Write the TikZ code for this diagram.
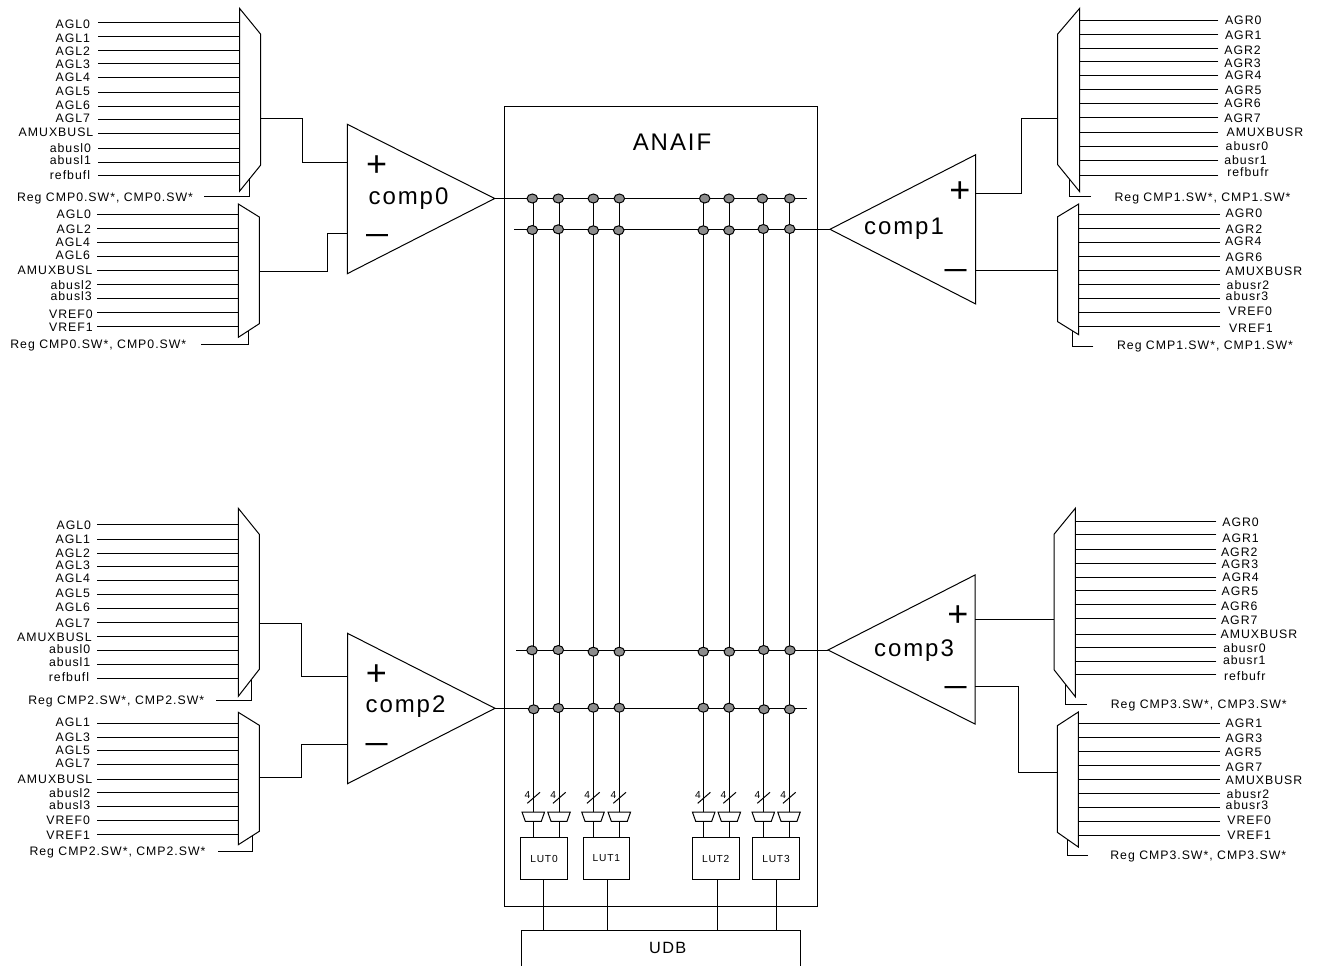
\documentclass[tikz,border=0pt]{standalone}
\usepackage{fontspec}
\setmainfont[LetterSpace=8]{Liberation Sans}
\newfontfamily\plainf{Liberation Sans}
\newfontfamily\boldf{Liberation Sans Bold}
\usetikzlibrary{shapes.geometric}
\definecolor{dotgray}{HTML}{8C8C8C}
\tikzset{
  wire/.style={draw=black,line width=1pt},
  shapeline/.style={draw=black,line width=1pt,fill=white,line join=miter},
  lab/.style={inner sep=0pt,outer sep=0pt,text height=8.6pt,text depth=0pt,font=\fontsize{12.3}{14}\selectfont},
  reglab/.style={lab,anchor=center},
  complab/.style={inner sep=0pt,text height=16.5pt,text depth=0pt,font=\fontsize{24}{26}\selectfont},
  plussign/.style={inner sep=0pt,yshift=-1pt,font=\plainf\fontsize{36}{38}\selectfont},
  minussign/.style={inner sep=0pt,yshift=-4pt,font=\boldf\fontsize{22}{24}\selectfont},
  lutbox/.style={draw=black,line width=1pt,minimum width=46.6pt,minimum height=41.6pt,inner sep=0pt,font=\fontsize{10.2}{12}\selectfont},
  jn/.style={ellipse,draw=black,line width=1pt,fill=dotgray,minimum width=10.5pt,minimum height=9pt,inner sep=0pt},
  fourlab/.style={inner sep=0pt,font=\fontsize{10.2}{12}\selectfont}
}
% left inputs: name, xstart, xend, {yline/xlabelend/ylabel/text}
\newcommand\inleft[4]{\foreach \yl/\xl/\yt/\lbl [count=\i] in {#4}{
  \node[lab,anchor=east] (#1l\i) at (\xl,\yt) {\lbl};
  \coordinate (#1s\i) at (#2,\yl);
  \coordinate (#1e\i) at (#3,\yl);
  \draw[wire] (#1s\i) -- (#1e\i);}}
% right inputs: name, xmux, xend, {yline/xlabelstart/ylabel/text}
\newcommand\inright[4]{\foreach \yl/\xl/\yt/\lbl [count=\i] in {#4}{
  \node[lab,anchor=west] (#1l\i) at (\xl,\yt) {\lbl};
  \coordinate (#1s\i) at (#3,\yl);
  \coordinate (#1e\i) at (#2,\yl);
  \draw[wire] (#1s\i) -- (#1e\i);}}
% mux polygon: name, xlong, xshort, ytop, yshouldertop, yshoulderbot, ybot
\newcommand\muxshape[7]{\draw[shapeline] (#2,#4) coordinate (#1a) -- (#3,#5) coordinate (#1b) -- (#3,#6) coordinate (#1c) -- (#2,#7) coordinate (#1d) -- cycle;}
\begin{document}
\begin{tikzpicture}[x=1pt,y=-1pt]
\useasboundingbox (0,0) rectangle (1320,966);

% ---------- ANAIF block
\node[draw=black,line width=1pt,minimum width=313pt,minimum height=800pt,inner sep=0pt] (anaif) at (661.2,506.7) {};
\node[complab] (anaiflab) at (672,142) {ANAIF};

% ---------- comparators
\draw[shapeline] (347.3,124.3) coordinate (c0t) -- (494.7,198.5) coordinate (c0o) -- (347.3,273.7) coordinate (c0b) -- cycle;
\draw[shapeline] (975.7,154.7) coordinate (c1t) -- (830,229.3) coordinate (c1o) -- (975.7,304) coordinate (c1b) -- cycle;
\draw[shapeline] (347.5,633.3) coordinate (c2t) -- (495,708.3) coordinate (c2o) -- (347.5,783.7) coordinate (c2b) -- cycle;
\draw[shapeline] (975,575) coordinate (c3t) -- (828,650) coordinate (c3o) -- (975,724) coordinate (c3b) -- cycle;
\node[complab] (c0lab) at (408.5,196) {comp0};
\node[complab] (c1lab) at (904,226) {comp1};
\node[complab] (c2lab) at (405.5,704) {comp2};
\node[complab] (c3lab) at (914,648) {comp3};
\node[plussign] (c0plus) at (376.7,165) {+};
\node[plussign] (c1plus) at (960,191) {+};
\node[plussign] (c2plus) at (376.5,674) {+};
\node[plussign] (c3plus) at (958,615) {+};
\node[minussign] (c0minus) at (377,234.5) {—};
\node[minussign] (c1minus) at (955.7,269) {—};
\node[minussign] (c2minus) at (376.5,743) {—};
\node[minussign] (c3minus) at (955.5,686) {—};

% ---------- muxes
\muxshape{m0}{239.5}{260.5}{8.3}{34}{165.3}{191.3}
\muxshape{m1}{238.3}{259.3}{204}{217}{323.7}{337.3}
\muxshape{m2}{1079.7}{1057.7}{8.3}{34}{164.7}{191.7}
\muxshape{m3}{1078.7}{1057.7}{204}{216.7}{321.7}{334.7}
\muxshape{m4}{238.3}{259.3}{508.3}{534.3}{669.3}{696.3}
\muxshape{m5}{238.3}{259.3}{712.3}{725.3}{831.3}{844.7}
\muxshape{m6}{1075.3}{1054}{508.3}{534.3}{669.7}{696.7}
\muxshape{m7}{1078.3}{1057.3}{712}{725.7}{832.3}{847}

% ---------- inputs
\inleft{a}{98}{239.5}{22.7/90/24/AGL0,36.3/90/38/AGL1,50.3/90/51.7/AGL2,64/90/64/AGL3,78/90/77/AGL4,92/90/91.3/AGL5,106/90/105/AGL6,119.5/90/117.7/AGL7,133.5/93.3/132.3/AMUXBUSL,148/91/148/abusl0,162/91/160/abusl1,175.5/90/174.7/refbufl}
\inleft{b}{97}{238.3}{214.3/91/214.3/AGL0,228.3/91/229/AGL2,242.3/90/242.3/AGL4,256.3/90/255/AGL6,270.3/92.3/270/AMUXBUSL,284.3/91.7/285/abusl2,298.3/91.7/296.3/abusl3,312.3/92.7/313.7/VREF0,326.3/92.7/326.7/VREF1}
\inright{c}{1079.7}{1218.3}{20.3/1225/20.7/AGR0,34.3/1225/35.7/AGR1,48.3/1224.3/50/AGR2,62/1224.3/62.7/AGR3,76/1225/75.3/AGR4,89.3/1225/90/AGR5,103.3/1224.3/103/AGR6,117.3/1224.3/117.7/AGR7,132/1226.7/132/AMUXBUSR,146/1225.7/146/abusr0,160.3/1224.3/160.3/abusr1,175.7/1227.3/172.3/refbufr}
\inright{d}{1078.7}{1220}{214.3/1225.7/213.3/AGR0,228.3/1225.7/228.7/AGR2,242.3/1225/241/AGR4,256.3/1225.7/256.7/AGR6,270.3/1225.7/270.7/AMUXBUSR,284.3/1226.7/285.3/abusr2,298.3/1225.7/295.7/abusr3,312.3/1228.3/310.7/VREF0,326.3/1229/327.7/VREF1}
\inleft{e}{97}{238.3}{524.7/91/525/AGL0,539/90/539.3/AGL1,553/90/552.7/AGL2,566.7/90/565.3/AGL3,580.3/90/578.3/AGL4,594.3/90/592.7/AGL5,608.3/90/606.7/AGL6,622.3/90/622.7/AGL7,636.3/91.7/636.7/AMUXBUSL,650.3/90.3/649/abusl0,664.3/90.3/662.3/abusl1,678.3/89/677.3/refbufl}
\inleft{f}{97}{238.3}{723.7/90/722.3/AGL1,737/90/737/AGL3,750.3/90/750.3/AGL5,764.3/90/763.3/AGL7,779/92.3/779/AMUXBUSL,792.7/90.3/792.7/abusl2,806.7/90.3/805.3/abusl3,820.7/90/820.3/VREF0,834.7/90/835/VREF1}
\inright{g}{1075.3}{1216.3}{521.7/1222.3/522.3/AGR0,534.7/1222.3/537.7/AGR1,549/1221/551.7/AGR2,563/1221.7/564/AGR3,577/1222.3/577/AGR4,590.7/1221.7/591.3/AGR5,604.7/1221/605.7/AGR6,618.7/1221/620/AGR7,634/1220.7/634/AMUXBUSR,647.3/1223.3/648.3/abusr0,661.7/1223/660.3/abusr1,674.3/1224/676/refbufr}
\inright{h}{1078.3}{1220}{723.7/1225.7/722.7/AGR1,737.7/1225.7/737.7/AGR3,751.3/1225/751.7/AGR5,765.3/1225.7/766.7/AGR7,779.3/1225.7/780/AMUXBUSR,793.3/1226.7/794/abusr2,807.3/1225.7/805.3/abusr3,821.3/1227.3/820.3/VREF0,835/1227.3/835/VREF1}

% ---------- select lines
\node[reglab] (r0) at (105,196.7) {Reg CMP0.SW*, CMP0.SW*};
\coordinate (r0s) at (204,196.6); \coordinate (r0e) at (249.7,178.4);
\draw[wire] (r0s) -| (r0e);
\node[reglab] (r1) at (98.3,344) {Reg CMP0.SW*, CMP0.SW*};
\coordinate (r1s) at (201.3,344.3); \coordinate (r1e) at (248.7,330.5);
\draw[wire] (r1s) -| (r1e);
\node[reglab] (r2) at (1202.5,196.7) {Reg CMP1.SW*, CMP1.SW*};
\coordinate (r2s) at (1091,196.7); \coordinate (r2e) at (1069.7,179.4);
\draw[wire] (r2s) -| (r2e);
\node[reglab] (r3) at (1205,345.3) {Reg CMP1.SW*, CMP1.SW*};
\coordinate (r3s) at (1093.3,346.7); \coordinate (r3e) at (1072,330.6);
\draw[wire] (r3s) -| (r3e);
\node[reglab] (r4) at (116.2,700) {Reg CMP2.SW*, CMP2.SW*};
\coordinate (r4s) at (216,700); \coordinate (r4e) at (251,680);
\draw[wire] (r4s) -| (r4e);
\node[reglab] (r5) at (117.5,850.7) {Reg CMP2.SW*, CMP2.SW*};
\coordinate (r5s) at (218,851.7); \coordinate (r5e) at (252,836);
\draw[wire] (r5s) -| (r5e);
\node[reglab] (r6) at (1198.8,704) {Reg CMP3.SW*, CMP3.SW*};
\coordinate (r6s) at (1087,704); \coordinate (r6e) at (1065.7,684.5);
\draw[wire] (r6s) -| (r6e);
\node[reglab] (r7) at (1198.3,855) {Reg CMP3.SW*, CMP3.SW*};
\coordinate (r7s) at (1088,855.3); \coordinate (r7e) at (1067,839);
\draw[wire] (r7s) -| (r7e);

% ---------- mux outputs to comparators
\coordinate (m0o) at (260.5,118);   \coordinate (c0p) at (347.3,162.5);
\coordinate (m1o) at (259.3,271.3); \coordinate (c0n) at (347.3,233.3);
\coordinate (m2o) at (1057.7,118);  \coordinate (c1p) at (975.7,193.3);
\coordinate (m3o) at (1057.7,270.3);\coordinate (c1n) at (975.7,270.3);
\coordinate (m4o) at (259.3,623.3); \coordinate (c2p) at (347.5,676);
\coordinate (m5o) at (259.3,777);   \coordinate (c2n) at (347.5,744.3);
\coordinate (m6o) at (1054,619);    \coordinate (c3p) at (975,619);
\coordinate (m7o) at (1057.3,772);  \coordinate (c3n) at (975,686);
\draw[wire] (m0o) -| (302.3,162.5) -- (c0p);
\draw[wire] (m1o) -| (327.3,233.3) -- (c0n);
\draw[wire] (m2o) -| (1021.3,193.3) -- (c1p);
\draw[wire] (m3o) -- (c1n);
\draw[wire] (m4o) -| (301.3,676) -- (c2p);
\draw[wire] (m5o) -| (301.7,744.3) -- (c2n);
\draw[wire] (m6o) -- (c3p);
\draw[wire] (m7o) -| (1018,686) -- (c3n);

% ---------- horizontal buses
\coordinate (b0e) at (806.7,198.5);
\coordinate (b1s) at (514.3,229.3);
\coordinate (b2s) at (516,650);
\coordinate (b3e) at (806.7,708.3);
\draw[wire] (c0o) -- (b0e);
\draw[wire] (b1s) -- (c1o);
\draw[wire] (b2s) -- (c3o);
\draw[wire] (c2o) -- (b3e);

% ---------- LUTs
\node[lutbox] (lut0) at (544,858.5) {LUT0};
\node[lutbox] (lut1) at (606.3,858.5) {LUT1};
\node[lutbox] (lut2) at (715.7,858.5) {LUT2};
\node[lutbox,minimum width=47.4pt] (lut3) at (776,858.5) {LUT3};

% ---------- vertical buses with 4-bit slash and small muxes
\foreach \x [count=\i] in {533.3,559,593,619.3,703.7,729.3,763.3,789}{
  \coordinate (vt\i) at (\x,198.5);
  \coordinate (vm\i) at (\x,812);
  \coordinate (vb\i) at (\x,821.3);
  \coordinate (vl\i) at (\x,837.7);
  \draw[wire] (vt\i) -- (vm\i);
  \draw[wire] (vb\i) -- (vl\i);
  \draw[shapeline] (\x-11.3,812) -- (\x+11.3,812) -- (\x+8,821.3) -- (\x-8,821.3) -- cycle;
  \coordinate (sl\i a) at (\x-6,803.3);
  \coordinate (sl\i b) at (\x+6.7,792.3);
  \draw[wire] (sl\i a) -- (sl\i b);
  \node[fourlab] (four\i) at (\x-5.8,795) {4};
}

% ---------- junction dots
\foreach \x/\y [count=\i] in {532.3/198.5,558.3/198.5,593.3/198.5,619.3/198.5,704.7/198.5,729/198.5,762.3/198.5,789.7/198.5}
  \node[jn] (ja\i) at (\x,\y) {};
\foreach \x/\y [count=\i] in {532.3/230,558.3/229.3,593.3/230.3,618.7/230.3,703.3/230.3,729/230.3,763.3/229,789.7/229}
  \node[jn] (jb\i) at (\x,\y) {};
\foreach \x/\y [count=\i] in {532/650.3,558.3/650,593.3/651.7,619.3/651.7,703.3/651.7,729.3/651.7,763.7/650,790/650.3}
  \node[jn] (jc\i) at (\x,\y) {};
\foreach \x/\y [count=\i] in {533.7/709.3,558.3/708,593.3/707.7,619.3/707.7,703.3/707.7,729/707.7,764/709.3,789.7/709.3}
  \node[jn] (jd\i) at (\x,\y) {};

% ---------- UDB
\coordinate (ua) at (521,966);
\coordinate (ub) at (521,930.3);
\coordinate (uc) at (800.7,930.3);
\coordinate (ud) at (800.7,966);
\draw[wire] (ua) -- (ub) -- (uc) -- (ud);
\node[inner sep=0pt,font=\fontsize{16.3}{18}\selectfont] (udb) at (667.7,948) {UDB};
\coordinate (u0) at (543.3,930.3);
\coordinate (u1) at (607.3,930.3);
\coordinate (u2) at (717.3,930.3);
\coordinate (u3) at (776,930.3);
\draw[wire] (lut0.south -| u0) -- (u0);
\draw[wire] (lut1.south -| u1) -- (u1);
\draw[wire] (lut2.south -| u2) -- (u2);
\draw[wire] (lut3.south -| u3) -- (u3);
\end{tikzpicture}
\end{document}
